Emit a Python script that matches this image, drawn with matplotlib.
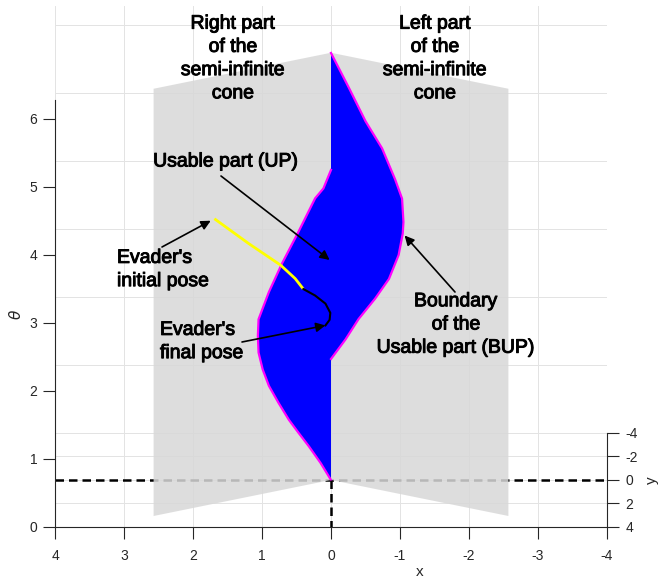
import numpy as np
import matplotlib
matplotlib.use("Agg")
import matplotlib.pyplot as plt
import matplotlib.patheffects as pe
from matplotlib.transforms import Affine2D
from matplotlib.patches import Polygon

plt.rcParams['axes.unicode_minus'] = False
plt.rcParams['font.family'] = ['Liberation Sans', 'DejaVu Sans']

# ---------------- data ----------------
x_ticks = [4, 3, 2, 1, 0, -1, -2, -3, -4]
theta_ticks = [0, 1, 2, 3, 4, 5, 6]
y_ticks = [-4, -2, 0, 2, 4]

theta_max = 2 * np.pi
cone_half_angle_deg = 40.0
cone_length = 4.0

# boundary of the usable part on the right part of the cone (x >= 0)
bup_right_x = [0.00, 0.15, 0.32, 0.47, 0.61, 0.76, 0.90, 0.99, 1.05, 1.06,
               1.05, 0.90, 0.71, 0.47, 0.23, 0.11, 0.00]
bup_right_theta = [0.00, 0.28, 0.56, 0.79, 1.01, 1.29, 1.57, 1.83, 2.09, 2.34,
                   2.58, 2.95, 3.33, 3.75, 4.19, 4.31, 4.56]
# boundary of the usable part on the left part of the cone (x <= 0)
bup_left_x = [0.00, -0.21, -0.40, -0.64, -0.84, -0.98, -1.04, -1.05, -1.03,
              -0.93, -0.74, -0.50, -0.26, 0.00]
bup_left_theta = [1.78, 2.11, 2.45, 2.80, 3.13, 3.51, 3.84, 4.01, 4.35,
                  4.61, 5.03, 5.38, 5.82, 6.28]

# evader trajectory (on the right part of the cone)
traj_yellow_x = [1.69, 1.19, 0.73, 0.52, 0.40]
traj_yellow_theta = [4.19, 3.72, 3.31, 3.07, 2.89]
traj_black_x = [0.40, 0.23, 0.08, 0.01, 0.02, 0.08]
traj_black_theta = [2.89, 2.76, 2.61, 2.46, 2.36, 2.29]

# ---------------- view (oblique projection of the 3-D box) ----------------
s = 0.1728                                   # vertical shift (theta units) per unit of y
c = 1.0 / np.tan(np.radians(cone_half_angle_deg))   # cone: y = c*|x|
xc = cone_length * np.sin(np.radians(cone_half_angle_deg))
ymin_box, ymax_box = -4, 4
vmax = theta_max + s * (ymax_box - ymin_box)

W, H = 663, 583
fig = plt.figure(figsize=(W / 100, H / 100), dpi=100)
ax = fig.add_axes([55 / W, 56 / H, 552 / W, (vmax * 68) / H])
ax.set_xlim(4, -4)
ax.set_ylim(0, vmax)

T = ax.transData
T_back = Affine2D().translate(0, s * (ymax_box - ymin_box)) + T      # (x, theta) at y=-4
T_y0 = Affine2D().translate(0, s * ymax_box) + T                     # (x, theta) at y=0
T_floor = Affine2D.from_values(1, 0, 0, -s, 0, s * ymax_box) + T     # (x, y) at theta=0
T_rcone = Affine2D.from_values(1, -s * c, 0, 1, 0, s * ymax_box) + T # right cone (x>=0)
T_lcone = Affine2D.from_values(1, s * c, 0, 1, 0, s * ymax_box) + T  # left cone (x<=0)

grid_col = '#e3e3e3'
ax_col = '#262626'
# grid: back wall
for th in theta_ticks:
    ax.plot([4, -4], [th, th], color=grid_col, lw=0.7, transform=T_back, zorder=0.5)
for xv in x_ticks:
    ax.plot([xv, xv], [0, theta_max], color=grid_col, lw=0.7, transform=T_back, zorder=0.5)
    ax.plot([xv, xv], [ymin_box, ymax_box], color=grid_col, lw=0.7, transform=T_floor, zorder=0.5)
# grid: floor
for yv in y_ticks:
    ax.plot([4, -4], [yv, yv], color=grid_col, lw=0.7, transform=T_floor, zorder=0.5)

# dashed reference line along x (y=0, theta=0), behind the cone
ax.plot([4, -4], [0, 0], color='k', lw=1.8, ls=(0, (3.4, 2)), transform=T_y0, zorder=1)

# semi-infinite cone (two flat parts)
gray = '#d8d8d8'
ax.add_patch(Polygon([(0, 0), (xc, 0), (xc, theta_max), (0, theta_max)], closed=True,
                     facecolor=gray, edgecolor='none', alpha=0.85, transform=T_rcone, zorder=2))
ax.add_patch(Polygon([(0, 0), (-xc, 0), (-xc, theta_max), (0, theta_max)], closed=True,
                     facecolor=gray, edgecolor='none', alpha=0.85, transform=T_lcone, zorder=2))

# usable part
ax.add_patch(Polygon(np.column_stack([bup_right_x, bup_right_theta]), closed=True,
                     facecolor='#0000ff', edgecolor='none', transform=T_rcone, zorder=3))
ax.add_patch(Polygon(np.column_stack([bup_left_x, bup_left_theta]), closed=True,
                     facecolor='#0000ff', edgecolor='none', transform=T_lcone, zorder=3))
ax.plot(bup_right_x, bup_right_theta, color='#ff00ff', lw=1.6, transform=T_rcone, zorder=4)
ax.plot(bup_left_x, bup_left_theta, color='#ff00ff', lw=1.6, transform=T_lcone, zorder=4)

# evader trajectory
ax.plot(traj_yellow_x, traj_yellow_theta, color='#ffff00', lw=2.0, transform=T_rcone,
        zorder=5, solid_capstyle='butt')
ax.plot(traj_black_x, traj_black_theta, color='k', lw=1.5, transform=T_rcone, zorder=5)

# dashed line along y (x=0, theta=0), in front
ax.plot([0, 0], [0, ymax_box], color='k', lw=1.8, ls=(0, (3.4, 2)), transform=T_floor, zorder=5)

# ---------------- axes styling ----------------
for sp in ['top', 'right']:
    ax.spines[sp].set_visible(False)
ax.spines['left'].set_bounds(0, theta_max)
for sp in ['left', 'bottom']:
    ax.spines[sp].set_color(ax_col)
    ax.spines[sp].set_linewidth(0.8)
ax.set_xticks(x_ticks)
ax.set_xticklabels([str(v) for v in x_ticks])
ax.set_yticks(theta_ticks)
ax.set_yticklabels([str(v) for v in theta_ticks])
ax.tick_params(axis='both', direction='out', length=8.5, width=0.8, color=ax_col,
               labelcolor=ax_col, labelsize=10)
ax.tick_params(axis='x', pad=7)
ax.tick_params(axis='y', pad=4.3)
ax.set_xlabel('x', fontsize=11, color=ax_col)
ax.xaxis.set_label_coords((420 - 55) / 552, -0.072)
ax.set_ylabel(r'$\theta$', fontsize=11, color=ax_col)
ax.yaxis.set_label_coords(-0.057, 0.407)

ax2 = ax.twinx()
ax2.set_ylim(ymax_box, ymax_box - vmax / s)
for sp in ['top', 'left', 'bottom']:
    ax2.spines[sp].set_visible(False)
ax2.spines['right'].set_bounds(ymin_box, ymax_box)
ax2.spines['right'].set_color(ax_col)
ax2.spines['right'].set_linewidth(0.8)
ax2.set_yticks(y_ticks)
ax2.set_yticklabels([str(v) for v in y_ticks])
ax2.tick_params(axis='y', direction='out', length=8.5, width=0.8, color=ax_col,
                labelcolor=ax_col, labelsize=10, pad=5)
ax2.set_ylabel('y', fontsize=11, color=ax_col)
ax2.yaxis.set_label_coords(1.068, 0.09)

# ---------------- annotations ----------------
fs = 14.0
ls_txt = 1.48
stroke = [pe.withStroke(linewidth=0.7, foreground='k')]
def ftext(px, py, txt, ha='center'):
    fig.text(px / W, 1 - py / H, txt, ha=ha, va='center', fontsize=fs,
             linespacing=ls_txt, color='k', multialignment=ha, path_effects=stroke)

ftext(233, 59, "Right part\nof the\nsemi-infinite\ncone")
ftext(435, 59, "Left part\nof the\nsemi-infinite\ncone")
ftext(226, 162, "Usable part (UP)")
ftext(117, 270, "Evader's\ninitial pose", ha='left')
ftext(160, 342, "Evader's\nfinal pose", ha='left')
ftext(456, 325, "Boundary\nof the\nUsable part (BUP)")

aprops = dict(arrowstyle='-|>', color='k', lw=1.2, mutation_scale=14, shrinkA=0, shrinkB=0)
ax.annotate('', xy=(0.02, 3.24), xycoords=T_rcone, xytext=(221, H - 176),
            textcoords='figure pixels', arrowprops=aprops, zorder=6)
ax.annotate('', xy=(traj_yellow_x[0], traj_yellow_theta[0]), xycoords=T_rcone,
            xytext=(162, H - 247), textcoords='figure pixels',
            arrowprops=dict(aprops, shrinkB=3), zorder=6)
ax.annotate('', xy=(traj_black_x[-1], traj_black_theta[-1]), xycoords=T_rcone,
            xytext=(242, H - 342), textcoords='figure pixels', arrowprops=aprops, zorder=6)
ax.annotate('', xy=(bup_left_x[6], bup_left_theta[6]), xycoords=T_lcone,
            xytext=(455, H - 292), textcoords='figure pixels',
            arrowprops=dict(aprops, shrinkB=2), zorder=6)

fig.savefig('out.png', dpi=100)
